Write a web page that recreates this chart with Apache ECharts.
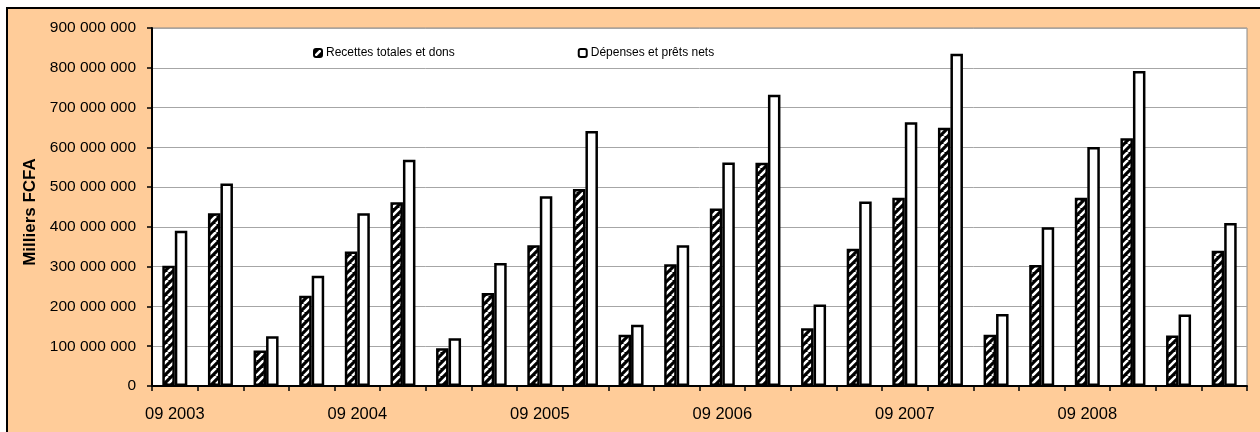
<!DOCTYPE html>
<html>
<head>
<meta charset="utf-8">
<script src="https://cdn.jsdelivr.net/npm/echarts@6/dist/echarts.min.js"></script>
<style>
  html, body { margin: 0; padding: 0; background: #ffffff; }
  #chart { width: 1260px; height: 432px; }
</style>
</head>
<body>
<div id="chart"></div>
<script>
// Quarterly periods (month year)
const categories = [
  '09 2003', '12 2003', '03 2004', '06 2004',
  '09 2004', '12 2004', '03 2005', '06 2005',
  '09 2005', '12 2005', '03 2006', '06 2006',
  '09 2006', '12 2006', '03 2007', '06 2007',
  '09 2007', '12 2007', '03 2008', '06 2008',
  '09 2008', '12 2008', '03 2009', '06 2009'
];

// Milliers FCFA
const recettes = [
  302000000, 434000000, 89000000, 227000000,
  338000000, 462000000, 95000000, 234000000,
  354000000, 495000000, 129000000, 306000000,
  446000000, 561000000, 145000000, 345000000,
  473000000, 649000000, 129000000, 304000000,
  473000000, 623000000, 127000000, 340000000
];
const depenses = [
  390000000, 509000000, 125000000, 277000000,
  434000000, 569000000, 120000000, 309000000,
  477000000, 641000000, 154000000, 354000000,
  562000000, 732000000, 205000000, 464000000,
  663000000, 835000000, 181000000, 399000000,
  601000000, 792000000, 180000000, 410000000
];

const seriesNames = ['Recettes totales et dons', 'Dépenses et prêts nets'];
const yTitle = 'Milliers FCFA';

// Diagonal hatch tile: black ground with white "/" stripes
function hatchTile() {
  const s = 8;
  const c = document.createElement('canvas');
  c.width = s; c.height = s;
  const ctx = c.getContext('2d');
  ctx.fillStyle = '#000';
  ctx.fillRect(0, 0, s, s);
  ctx.strokeStyle = '#fff';
  ctx.lineWidth = 2.6;
  ctx.beginPath();
  for (const o of [-s, 0, s]) {
    ctx.moveTo(o, s);
    ctx.lineTo(o + s, 0);
  }
  ctx.stroke();
  return c;
}

const fmt = v => String(v).replace(/\B(?=(\d{3})+(?!\d))/g, ' ');
const FONT = '"Liberation Sans", Arial, sans-serif';

const chart = echarts.init(document.getElementById('chart'), null, { renderer: 'canvas' });
chart.setOption({
  animation: false,
  backgroundColor: '#ffffff',
  graphic: [{
    type: 'rect',
    z: -10,
    silent: true,
    shape: { x: 7, y: 8, width: 1260, height: 432 },
    style: { fill: '#FFCC99', stroke: '#000', lineWidth: 2 }
  }],
  grid: {
    left: 152, right: 13, top: 28, bottom: 46,
    show: true,
    backgroundColor: '#ffffff',
    borderColor: '#8a8a8a',
    borderWidth: 1
  },
  legend: {
    left: 308, top: 42,
    itemWidth: 8, itemHeight: 8,
    itemGap: 123,
    textStyle: { fontFamily: FONT, fontSize: 12, color: '#000', padding: [0, 0, 0, -1] },
    data: seriesNames
  },
  xAxis: {
    type: 'category',
    data: categories,
    boundaryGap: true,
    axisLine: { lineStyle: { color: '#000', width: 2 } },
    axisTick: { show: true, interval: 0, length: 5, lineStyle: { color: '#000', width: 1.5 } },
    axisLabel: { interval: 3, margin: 20, fontFamily: FONT, fontSize: 16.5, color: '#000' },
    splitLine: { show: false }
  },
  yAxis: {
    type: 'value',
    min: 0, max: 900000000, interval: 100000000,
    name: yTitle,
    nameLocation: 'middle',
    nameGap: 56,
    nameRotate: 90,
    nameTextStyle: { fontFamily: FONT, fontSize: 17, fontWeight: 'bold', color: '#000', padding: [0, 10, 0, 0] },
    axisLine: { show: true, lineStyle: { color: '#000', width: 2 } },
    axisTick: { show: true, length: 5, lineStyle: { color: '#000', width: 1.5 } },
    axisLabel: { margin: 16, fontFamily: FONT, fontSize: 15.5, color: '#000', formatter: fmt },
    splitLine: { lineStyle: { color: '#a6a6a6', width: 1 } }
  },
  series: [
    {
      name: seriesNames[0],
      type: 'bar',
      data: recettes,
      barWidth: 12.5,
      barGap: '0%',
      itemStyle: { color: { image: hatchTile(), repeat: 'repeat' }, borderColor: '#000', borderWidth: 2.5 }
    },
    {
      name: seriesNames[1],
      type: 'bar',
      data: depenses,
      barWidth: 12.5,
      barGap: '0%',
      itemStyle: { color: '#ffffff', borderColor: '#000', borderWidth: 2.5 }
    }
  ]
});
</script>
</body>
</html>
